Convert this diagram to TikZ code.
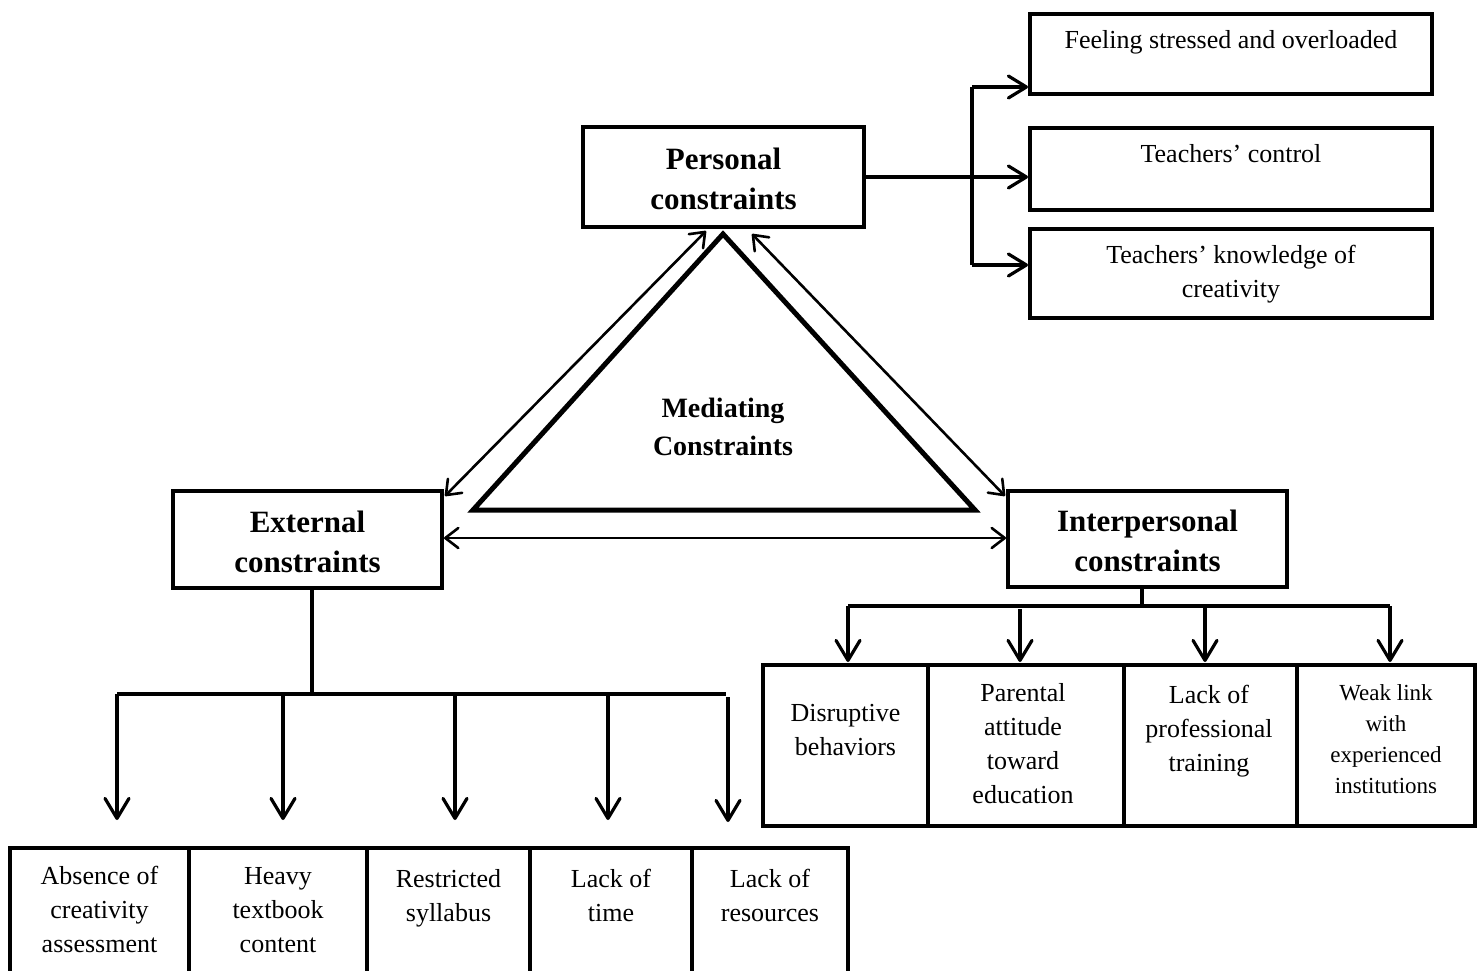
\documentclass[tikz,border=0pt]{standalone}
\usepackage{fontspec}
\setmainfont{Liberation Serif}
\usetikzlibrary{arrows.meta}

\begin{document}
\begin{tikzpicture}[x=1pt,y=-1pt,
  box/.style={draw, line width=4pt, rectangle, inner sep=0pt},
  % multi-line text: the base anchor sits on the baseline of the last line
  head/.style={font=\fontsize{31}{40}\selectfont\bfseries, align=center, inner sep=0pt, anchor=base},
  midhead/.style={font=\fontsize{28}{38}\selectfont\bfseries, align=center, inner sep=0pt, anchor=base},
  label/.style={font=\fontsize{26}{34}\selectfont, align=center, inner sep=0pt, anchor=base},
  smalllabel/.style={font=\fontsize{23}{31}\selectfont, align=center, inner sep=0pt, anchor=base},
  wire/.style={line width=3.2pt},
  arr/.style={line width=3.2pt, -{Straight Barb[length=18pt,width=22pt,line width=3.2pt,round]}},
  downarr/.style={line width=3.2pt, -{Straight Barb[length=20pt,width=24pt,line width=3.2pt,round]}},
  twoway/.style={line width=2.6pt, {Straight Barb[length=13pt,width=20pt,line width=2.6pt,round]}-{Straight Barb[length=13pt,width=20pt,line width=2.6pt,round]}}
]
\clip (0,0) rectangle (1483,971);

% --- main category boxes ---
\node[box, minimum width=281pt, minimum height=100pt] (pers) at (723.5,177) {};
\node[head] (perstext) at (723.5,209) {Personal\\constraints};

\node[box, minimum width=269pt, minimum height=97pt] (ext) at (307.5,539.5) {};
\node[head] (exttext) at (307.5,572) {External\\constraints};

\node[box, minimum width=279pt, minimum height=96pt] (int) at (1147.5,539) {};
\node[head] (inttext) at (1147.5,571) {Interpersonal\\constraints};

% --- personal constraint outcomes ---
\node[box, minimum width=402pt, minimum height=80pt] (feel) at (1231,54) {};
\node[label] (feeltext) at (1231,49) {Feeling stressed and overloaded};

\node[box, minimum width=402pt, minimum height=82pt] (ctrl) at (1231,169) {};
\node[label] (ctrltext) at (1231,162) {Teachers’ control};

\node[box, minimum width=402pt, minimum height=89pt] (know) at (1231,273.5) {};
\node[label] (knowtext) at (1231,297) {Teachers’ knowledge of\\creativity};

\coordinate (fa) at (972,87);
\coordinate (fb) at (972,265);
\draw[wire] (fa) -- (fb);
\draw[arr] (fa) -- (fa -| feel.west);
\draw[arr] (pers.east) -- (pers.east -| ctrl.west);
\draw[arr] (fb) -- (fb -| know.west);

% --- mediating triangle ---
\draw[line width=5pt] (723,234) -- (975,510) -- (473,510) -- cycle;
\node[midhead] (medtext) at (723,455) {Mediating\\Constraints};

\draw[twoway] ([xshift=-17.5pt,yshift=-2pt]pers.south) -- ([xshift=1pt,yshift=-7pt]ext.north east);
\draw[twoway] ([xshift=28.5pt,yshift=-5pt]pers.south) -- ([xshift=-1pt,yshift=-7pt]int.north west);
\draw[twoway] (ext.east |- 0,538) -- (int.west |- 0,538);

% --- external constraints ---
\node[box, minimum width=179pt, minimum height=160pt] (e1) at (99.5,928) {};
\node[box, minimum width=178pt, minimum height=160pt] (e2) at (278,928) {};
\node[box, minimum width=163pt, minimum height=160pt] (e3) at (448.5,928) {};
\node[box, minimum width=162pt, minimum height=160pt] (e4) at (611,928) {};
\node[box, minimum width=156pt, minimum height=160pt] (e5) at (770,928) {};
\node[label] (e1text) at (99.5,952) {Absence of\\creativity\\assessment};
\node[label] (e2text) at (278,952) {Heavy\\textbook\\content};
\node[label] (e3text) at (448.5,921) {Restricted\\syllabus};
\node[label] (e4text) at (611,921) {Lack of\\time};
\node[label] (e5text) at (770,921) {Lack of\\resources};

\coordinate (eb) at (312,694);
\coordinate (et1) at (117,820);
\coordinate (et2) at (283,820);
\coordinate (et3) at (455,820);
\coordinate (et4) at (608,820);
\coordinate (et5) at (728,822);
\draw[wire] (eb |- ext.south) -- (eb);
\draw[wire] (et1 |- eb) -- (726,694);
\draw[downarr] (et1 |- eb) -- (et1);
\draw[downarr] (et2 |- eb) -- (et2);
\draw[downarr] (et3 |- eb) -- (et3);
\draw[downarr] (et4 |- eb) -- (et4);
\draw[downarr] (728,697) -- (et5);

% --- interpersonal constraints ---
\node[box, minimum width=165pt, minimum height=161pt] (i1) at (845.5,745.5) {};
\node[box, minimum width=196pt, minimum height=161pt] (i2) at (1026,745.5) {};
\node[box, minimum width=173pt, minimum height=161pt] (i3) at (1210.5,745.5) {};
\node[box, minimum width=178pt, minimum height=161pt] (i4) at (1386,745.5) {};
\node[label] (i1text) at (845.5,755) {Disruptive\\behaviors};
\node[label] (i2text) at (1023,803) {Parental\\attitude\\toward\\education};
\node[label] (i3text) at (1209,771) {Lack of\\professional\\training};
\node[smalllabel] (i4text) at (1386,793) {Weak link\\with\\experienced\\institutions};

\coordinate (ib) at (1142,606);
\coordinate (it1) at (848,662);
\coordinate (it2) at (1020,662);
\coordinate (it3) at (1205,662);
\coordinate (it4) at (1390,662);
\draw[wire] (ib |- int.south) -- (ib);
\draw[wire] (it1 |- ib) -- (it4 |- ib);
\draw[downarr] (it1 |- ib) -- (it1);
\draw[downarr] (1020,609) -- (it2);
\draw[downarr] (it3 |- ib) -- (it3);
\draw[downarr] (it4 |- ib) -- (it4);
\end{tikzpicture}
\end{document}
